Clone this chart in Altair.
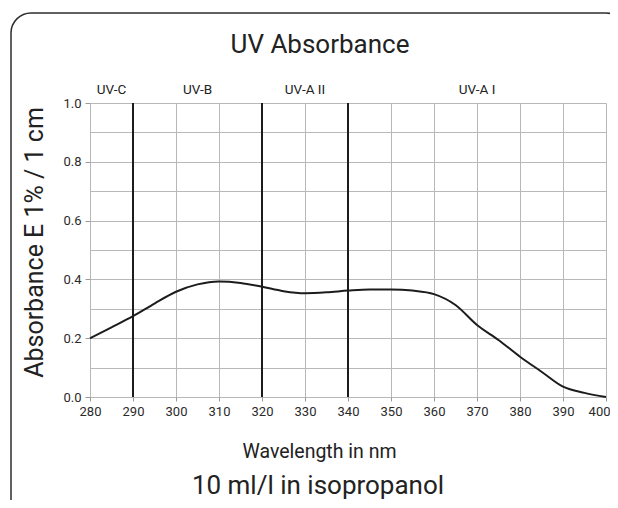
import altair as alt
import pandas as pd

# Data
wavelength = [280, 285, 290, 295, 300, 305, 310, 315, 320, 325, 330, 335, 340,
              345, 350, 355, 360, 365, 370, 375, 380, 385, 390, 395, 400]
absorbance = [0.200, 0.237, 0.275, 0.318, 0.358, 0.383, 0.393, 0.388, 0.375,
              0.360, 0.353, 0.356, 0.362, 0.366, 0.366, 0.362, 0.350, 0.313,
              0.245, 0.194, 0.137, 0.086, 0.035, 0.014, 0.000]

band_names = ["UV-C", "UV-B", "UV-A II", "UV-A I"]
band_edges = [280, 290, 320, 340, 400]
divider_lines = [290, 320, 340]

x_ticks = list(range(280, 401, 5))
y_ticks = [0.0, 0.1, 0.2, 0.3, 0.4, 0.5, 0.6, 0.7, 0.8, 0.9, 1.0]

title_text = "UV Absorbance"
caption_text = "10 ml/l in isopropanol"
x_title = "Wavelength in nm"
y_title = "Absorbance E 1% / 1 cm"

FONT = "Roboto"
W, H = 516, 294

curve_df = pd.DataFrame({"wl": wavelength, "abs": absorbance})
band_df = pd.DataFrame({
    "band": band_names,
    "mid": [(band_edges[i] + band_edges[i + 1]) / 2 for i in range(len(band_names))],
})
div_df = pd.DataFrame({"wl": divider_lines})
one = pd.DataFrame({"k": [0]})

x_scale = alt.Scale(domain=[280, 400], nice=False, zero=False)
y_scale = alt.Scale(domain=[0, 1], nice=False)

x_axis = alt.Axis(
    values=x_ticks,
    labelExpr="datum.value % 10 === 0 ? datum.label : ''",
    labelAlign={"condition": {"test": "datum.value === 400", "value": "right"}, "value": "center"},
    labelOffset={"condition": {"test": "datum.value === 400", "value": 4}, "value": 0},
    gridOpacity={"condition": {"test": "datum.value % 10 === 0", "value": 1}, "value": 0},
    grid=True, gridColor="#b8b8b8", gridWidth=1, labelFlush=False,
    domain=False, tickColor="#9a9a9a", tickSize=4, labelPadding=4,
    labelFont=FONT, labelFontSize=13, labelColor="#2a2a2a",
    title=x_title, titleFont=FONT, titleFontSize=19.5, titleFontWeight="normal",
    titleColor="#222222", titleX=229, titleY=60, titleAnchor="middle",
    titleAlign="center", titleBaseline="alphabetic",
)
y_axis = alt.Axis(
    values=y_ticks,
    labelExpr="round(datum.value * 10) % 2 === 0 ? format(datum.value, '.1f') : ''",
    tickOpacity={"condition": {"test": "round(datum.value * 10) % 2 === 0", "value": 1}, "value": 0},
    grid=True, gridColor="#b8b8b8", gridWidth=1, labelFlush=False,
    domain=False, tickColor="#9a9a9a", tickSize=5, labelPadding=4,
    labelFont=FONT, labelFontSize=13, labelColor="#2a2a2a",
    title=y_title, titleFont=FONT, titleFontSize=25, titleFontWeight="normal",
    titleColor="#222222", titleX=-56, titleY=139, titleAngle=270,
    titleAlign="center", titleBaseline="middle",
)

curve = alt.Chart(curve_df).mark_line(
    color="#1c1c1c", strokeWidth=2, interpolate="monotone"
).encode(
    x=alt.X("wl:Q", scale=x_scale, axis=x_axis),
    y=alt.Y("abs:Q", scale=y_scale, axis=y_axis),
)

dividers = alt.Chart(div_df).mark_rule(color="#1c1c1c", strokeWidth=2).encode(
    x=alt.X("wl:Q", scale=x_scale),
)

bands = alt.Chart(band_df).mark_text(
    font=FONT, fontSize=13.5, color="#222222", baseline="alphabetic", align="center"
).encode(
    x=alt.X("mid:Q", scale=x_scale),
    y=alt.value(-9),
    text="band:N",
)

title_mark = alt.Chart(one).mark_text(
    text=title_text, font=FONT, fontSize=26, color="#222222",
    align="center", baseline="alphabetic",
).encode(x=alt.value(230), y=alt.value(-50))

caption_mark = alt.Chart(one).mark_text(
    text=caption_text, font=FONT, fontSize=26, color="#222222",
    align="center", baseline="alphabetic",
).encode(x=alt.value(228), y=alt.value(391))

frame = alt.Chart(one).mark_rect(
    filled=False, stroke="#2e2e2e", strokeWidth=1.5, cornerRadius=20,
).encode(
    x=alt.value(-79), x2=alt.value(536), y=alt.value(-90), y2=alt.value(415),
)

chart = alt.layer(
    frame, dividers, curve, bands, title_mark, caption_mark
).properties(
    width=W, height=H,
    autosize=alt.AutoSizeParams(type="none"),
    padding={"left": 82, "top": 95, "right": 4, "bottom": 103},
    background="white",
).configure_view(stroke="transparent")

chart.save("out.html", embed_options={"renderer": "svg", "actions": False})
